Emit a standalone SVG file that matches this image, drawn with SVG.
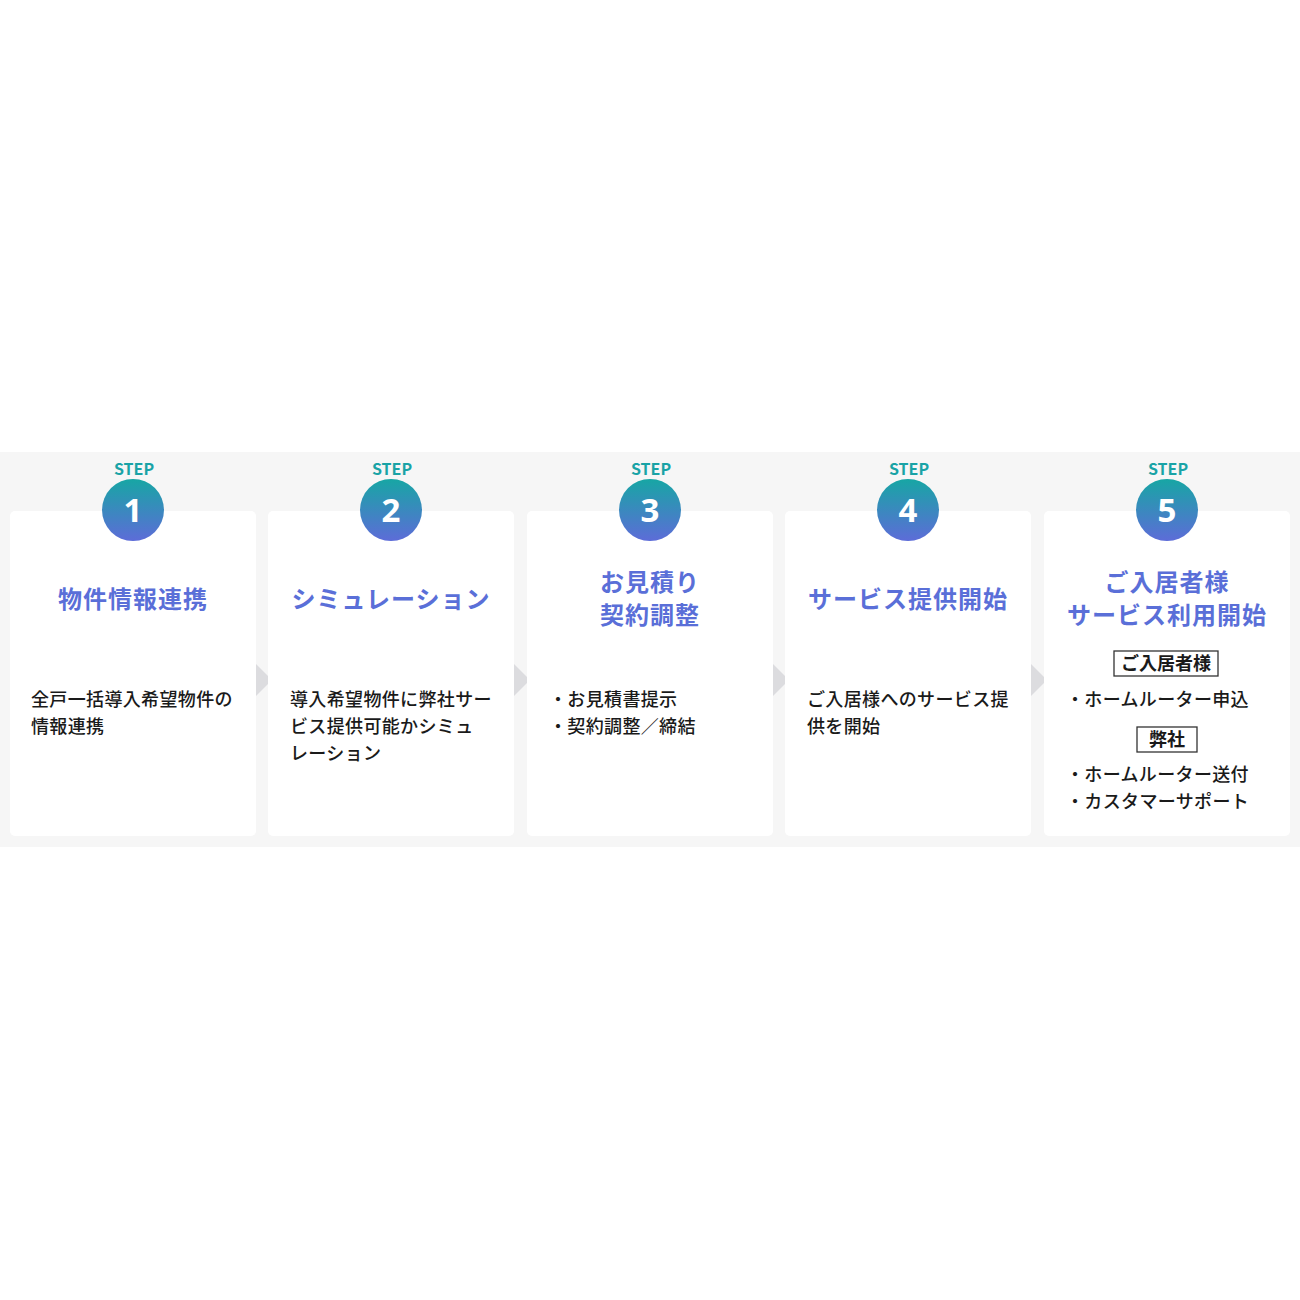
<svg xmlns="http://www.w3.org/2000/svg" width="1300" height="1300" viewBox="0 0 1300 1300">
<defs>
<linearGradient id="g" x1="0" y1="0" x2="0" y2="1">
<stop offset="0" stop-color="#17a6a4"/>
<stop offset="1" stop-color="#5d6cd8"/>
</linearGradient>
<style>
.card{fill:#ffffff}
.step{font-family:"Noto Sans CJK JP","Noto Sans",sans-serif;font-weight:700;font-size:16px;fill:#19a3a6;text-anchor:middle}
.num{font-family:"Noto Sans","Noto Sans CJK JP",sans-serif;font-weight:700;font-size:33px;fill:#ffffff;text-anchor:middle}
.title{font-family:"Noto Sans CJK JP",sans-serif;font-weight:700;font-size:24px;letter-spacing:1px;fill:#5a6fd8;text-anchor:middle}
.body{font-family:"Noto Sans CJK JP",sans-serif;font-weight:500;font-size:18px;letter-spacing:0.35px;fill:#1a1a1a}
.label{font-family:"Noto Sans CJK JP",sans-serif;font-weight:700;font-size:18px;fill:#1a1a1a;text-anchor:middle}
.arrow{fill:#dcdcdf}
.box{fill:none;stroke:#333;stroke-width:1.3}
</style>
</defs>
<rect x="0" y="452" width="1300" height="395" fill="#f6f6f6"/>
<g id="connectors">
<polygon class="arrow" points="256,664 272,680 256,696"/>
<polygon class="arrow" points="514,664 530,680 514,696"/>
<polygon class="arrow" points="773,664 789,680 773,696"/>
<polygon class="arrow" points="1031,664 1047,680 1031,696"/>
</g>
<g id="step1">
<rect class="card" x="10" y="511" width="246" height="325" rx="5"/>
<text class="step" x="134" y="475">STEP</text>
<circle cx="133" cy="510" r="31" fill="url(#g)"/>
<text class="num" x="133" y="522">1</text>
<text class="title" x="133" y="608">物件情報連携</text>
<text class="body" x="31" y="706">全戸一括導入希望物件の</text>
<text class="body" x="31" y="733">情報連携</text>
</g>
<g id="step2">
<rect class="card" x="268" y="511" width="246" height="325" rx="5"/>
<text class="step" x="392" y="475">STEP</text>
<circle cx="391" cy="510" r="31" fill="url(#g)"/>
<text class="num" x="391" y="522">2</text>
<text class="title" x="391" y="608">シミュレーション</text>
<text class="body" x="290" y="706">導入希望物件に弊社サー</text>
<text class="body" x="290" y="733">ビス提供可能かシミュ</text>
<text class="body" x="290" y="760">レーション</text>
</g>
<g id="step3">
<rect class="card" x="527" y="511" width="246" height="325" rx="5"/>
<text class="step" x="651" y="475">STEP</text>
<circle cx="650" cy="510" r="31" fill="url(#g)"/>
<text class="num" x="650" y="522">3</text>
<text class="title" x="650" y="591">お見積り</text>
<text class="title" x="650" y="624">契約調整</text>
<text class="body" x="549" y="706">・お見積書提示</text>
<text class="body" x="549" y="733">・契約調整／締結</text>
</g>
<g id="step4">
<rect class="card" x="785" y="511" width="246" height="325" rx="5"/>
<text class="step" x="909" y="475">STEP</text>
<circle cx="908" cy="510" r="31" fill="url(#g)"/>
<text class="num" x="908" y="522">4</text>
<text class="title" x="908" y="608">サービス提供開始</text>
<text class="body" x="807" y="706">ご入居様へのサービス提</text>
<text class="body" x="807" y="733">供を開始</text>
</g>
<g id="step5">
<rect class="card" x="1044" y="511" width="246" height="325" rx="5"/>
<text class="step" x="1168" y="475">STEP</text>
<circle cx="1167" cy="510" r="31" fill="url(#g)"/>
<text class="num" x="1167" y="522">5</text>
<text class="title" x="1167" y="591">ご入居者様</text>
<text class="title" x="1167" y="624">サービス利用開始</text>
<rect class="box" x="1114" y="651" width="104" height="25"/>
<text class="label" x="1166" y="670">ご入居者様</text>
<text class="body" x="1066" y="706">・ホームルーター申込</text>
<rect class="box" x="1137" y="727" width="60" height="25"/>
<text class="label" x="1167" y="746">弊社</text>
<text class="body" x="1066" y="781">・ホームルーター送付</text>
<text class="body" x="1066" y="808">・カスタマーサポート</text>
</g>
</svg>
